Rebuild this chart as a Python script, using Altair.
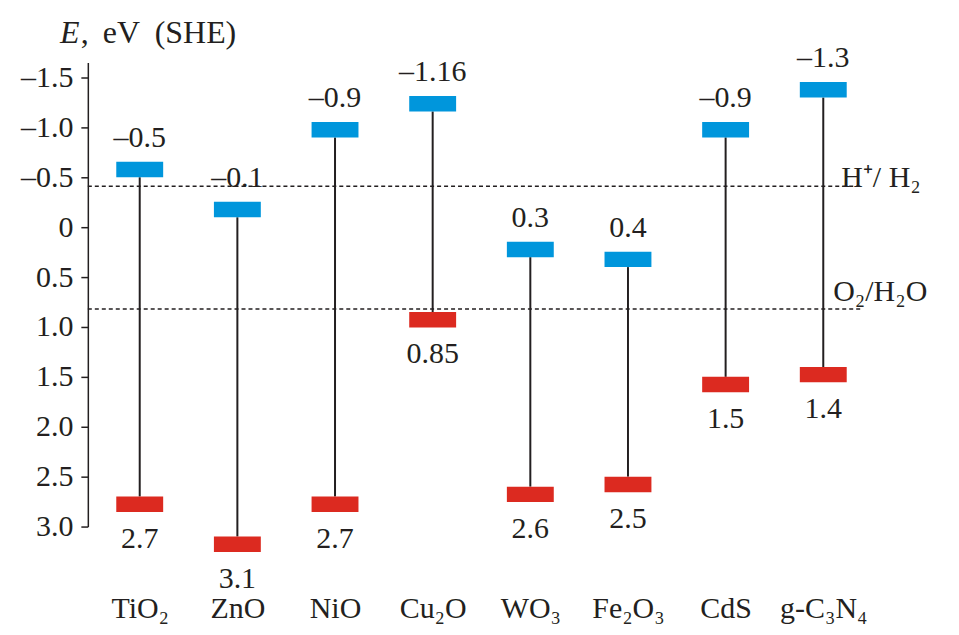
import altair as alt
import pandas as pd

materials = ["TiO₂", "ZnO", "NiO", "Cu₂O", "WO₃", "Fe₂O₃", "CdS", "g-C₃N₄"]
conduction_band = [-0.5, -0.1, -0.9, -1.16, 0.3, 0.4, -0.9, -1.3]
valence_band = [2.7, 3.1, 2.7, 0.85, 2.6, 2.5, 1.5, 1.4]
y_ticks = [-1.5, -1.0, -0.5, 0.0, 0.5, 1.0, 1.5, 2.0, 2.5, 3.0]
redox_levels = [-0.41, 0.82]
redox_labels = ["H⁺/ H₂", "O₂/H₂O"]
title_parts = ["E", ",", "eV", "(SHE)"]


def fmt(v):
    s = f"{abs(v):g}"
    return ("–" + s) if v < 0 else s


df = pd.DataFrame({
    "material": materials,
    "cb": conduction_band,
    "vb": valence_band,
    "cb_label": [fmt(v) for v in conduction_band],
    "vb_label": [fmt(v) for v in valence_band],
})
redox = pd.DataFrame({"level": redox_levels, "label": redox_labels})

FONT = "Liberation Serif"
FS = 30
INK = "#231f20"
BAR_H = 0.155

x_enc = alt.X(
    "material:N",
    sort=materials,
    scale=alt.Scale(type="point", range=[52, 737], padding=0),
    axis=alt.Axis(
        title=None, domain=False, ticks=False, labelAngle=0,
        labelFont=FONT, labelFontSize=FS, labelColor=INK,
        labelPadding=91, labelBaseline="alphabetic",
    ),
)
y_scale = alt.Scale(domain=[-1.65, 3.0], reverse=True, nice=False, zero=False)

base = alt.Chart(df)

span = base.mark_rule(color=INK, strokeWidth=2).encode(
    x=x_enc,
    y=alt.Y(
        "cb:Q", scale=y_scale,
        axis=alt.Axis(
            title=None, values=y_ticks, grid=False,
            labelExpr="datum.value < 0 ? '–' + format(-datum.value, '.1f') : (datum.value == 0 ? '0' : format(datum.value, '.1f'))",
            labelFont=FONT, labelFontSize=FS, labelColor=INK,
            domainColor=INK, tickColor=INK, domainWidth=1.5, tickWidth=1.5,
            tickSize=7, labelPadding=8,
        ),
    ),
    y2="vb:Q",
)

cb_bar = base.transform_calculate(top="datum.cb - %f" % BAR_H).mark_bar(
    color="#0096dc", width=47
).encode(x=x_enc, y=alt.Y("cb:Q", scale=y_scale), y2="top:Q")

vb_bar = base.transform_calculate(bot="datum.vb + %f" % BAR_H).mark_bar(
    color="#dc2a20", width=47
).encode(x=x_enc, y=alt.Y("vb:Q", scale=y_scale), y2="bot:Q")

cb_text = base.transform_calculate(top="datum.cb - %f" % BAR_H).mark_text(
    font=FONT, fontSize=FS, color=INK, baseline="alphabetic", dy=-15
).encode(x=x_enc, y=alt.Y("top:Q", scale=y_scale), text="cb_label:N")

vb_text = base.transform_calculate(bot="datum.vb + %f" % BAR_H).mark_text(
    font=FONT, fontSize=FS, color=INK, baseline="alphabetic", dy=36
).encode(x=x_enc, y=alt.Y("bot:Q", scale=y_scale), text="vb_label:N")

redox_base = alt.Chart(redox)
redox_lines = redox_base.mark_rule(
    color=INK, strokeWidth=1.5, strokeDash=[4, 3]
).encode(
    y=alt.Y("level:Q", scale=y_scale),
    x=alt.value(0), x2=alt.value(774),
)
redox_text_h = redox_base.transform_filter(alt.datum.level < 0).mark_text(
    font=FONT, fontSize=FS, color=INK, align="left", baseline="alphabetic", dy=1
).encode(y=alt.Y("level:Q", scale=y_scale), x=alt.value(755), text="label:N")
redox_text_o = redox_base.transform_filter(alt.datum.level > 0).mark_text(
    font=FONT, fontSize=FS, color=INK, align="left", baseline="alphabetic", dy=-8
).encode(y=alt.Y("level:Q", scale=y_scale), x=alt.value(747), text="label:N")

TFS = 32
title_e = alt.Chart(pd.DataFrame({"t": [title_parts[0]]})).mark_text(
    font=FONT, fontSize=TFS, fontStyle="italic", color=INK, align="left", baseline="alphabetic"
).encode(x=alt.value(-28), y=alt.value(-20), text="t:N")
title_comma = alt.Chart(pd.DataFrame({"t": [title_parts[1]]})).mark_text(
    font=FONT, fontSize=TFS, color=INK, align="left", baseline="alphabetic"
).encode(x=alt.value(-7), y=alt.value(-20), text="t:N")
title_ev = alt.Chart(pd.DataFrame({"t": [title_parts[2]]})).mark_text(
    font=FONT, fontSize=TFS, color=INK, align="left", baseline="alphabetic"
).encode(x=alt.value(15), y=alt.value(-20), text="t:N")
title_she = alt.Chart(pd.DataFrame({"t": [title_parts[3]]})).mark_text(
    font=FONT, fontSize=TFS, color=INK, align="left", baseline="alphabetic"
).encode(x=alt.value(67), y=alt.value(-20), text="t:N")

chart = alt.layer(
    redox_lines, span, cb_bar, vb_bar, cb_text, vb_text,
    redox_text_h, redox_text_o, title_e, title_comma, title_ev, title_she
).properties(
    width=860, height=465,
    background="white",
    autosize=alt.AutoSizeParams(type="none"),
    padding={"left": 80, "top": 54, "right": 5, "bottom": 99},
).configure_view(stroke="transparent", strokeWidth=0)

chart.save("out.html", embed_options={"renderer": "svg", "actions": False})
